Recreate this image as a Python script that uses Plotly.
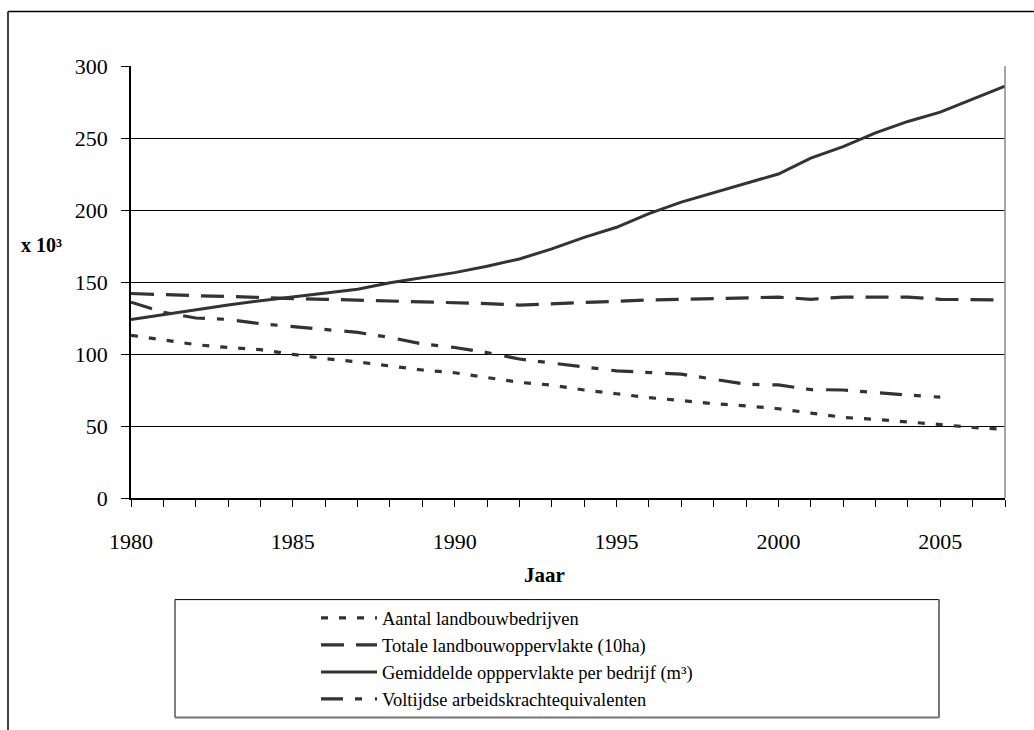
import plotly.graph_objects as go

years = list(range(1980, 2008))

aantal = [113, 110, 106.5, 104.5, 103, 99.7, 96.8, 94.5, 91.6, 88.9, 87, 83.7, 80.3, 78.4,
          75, 72.4, 69.7, 67.7, 65.5, 64, 62, 59, 56, 54.6, 53, 51, 49, 47.7]
totale = [142, 141, 140.5, 140, 139, 138.5, 138, 137.5, 137, 136, 135.5, 135, 134, 135,
          135.8, 136.5, 137.5, 138, 138.5, 139.5, 139.5, 138, 139.5, 139.5, 139.5, 138, 138, 137.5]
gemiddelde = [124, 127.5, 131, 134, 137, 139.5, 142, 145, 149.5, 153, 156.5, 161, 166, 173,
              181, 188, 197.5, 205.5, 212, 218.5, 225, 236, 244, 253.5, 261.5, 268, 277, 286]
voltijdse = [136, 129, 125, 124, 121, 119, 117.5, 115, 111.5, 107, 104.5, 101, 96.5, 93.5,
             91, 88.3, 87, 86, 82.5, 79, 78.5, 75.3, 75, 73, 71.5, 70, None, None]

names = ["Aantal landbouwbedrijven",
         "Totale landbouwoppervlakte (10ha)",
         "Gemiddelde opppervlakte per bedrijf (m³)",
         "Voltijdse arbeidskrachtequivalenten"]

y_ticks = [0, 50, 100, 150, 200, 250, 300]

LINE = "#333333"
FONT = "Liberation Serif"

fig = go.Figure()
styles = [
    (aantal, "7px,11px", 3.2),
    (totale, "23px,12px", 3.2),
    (gemiddelde, "solid", 3),
    (voltijdse, "22px,12px,7px,13px", 3.2),
]
for name, (vals, dash, w) in zip(names, styles):
    fig.add_trace(go.Scatter(
        x=years, y=vals, name=name, mode="lines",
        line=dict(color=LINE, width=w, dash=dash),
        connectgaps=False,
    ))

# pixel helpers for paper coords
L, R, T, B = 131, 29, 66, 229
PW, PH = 1034 - L - R, 730 - T - B
def px(X):
    return (X - L) / PW
def py(Y):
    return (730 - B - Y) / PH

shapes = [
    # right border of plot area
    dict(type="line", xref="paper", yref="paper", x0=1, x1=1, y0=0, y1=1,
         line=dict(color="#888888", width=1.5)),
    # outer frame (top & left)
    dict(type="line", xref="paper", yref="paper", x0=px(8), x1=px(1040), y0=py(11), y1=py(11),
         line=dict(color="#000000", width=1.5)),
    dict(type="line", xref="paper", yref="paper", x0=px(8), x1=px(8), y0=py(11), y1=py(740),
         line=dict(color="#000000", width=1.5)),
    # legend box
    dict(type="rect", xref="paper", yref="paper", x0=px(175), x1=px(939), y0=py(722), y1=py(603.3),
         line=dict(color="#000000", width=1)),
    dict(type="line", xref="paper", yref="paper", x0=px(939), x1=px(939), y0=py(722), y1=py(603.3),
         line=dict(color="#777777", width=2)),
    dict(type="line", xref="paper", yref="paper", x0=px(175), x1=px(939), y0=py(722), y1=py(722),
         line=dict(color="#777777", width=2)),
]

annotations = [
    dict(text="<b>x 10³</b>", xref="paper", yref="paper", x=px(19), y=py(246.7),
         xanchor="left", yanchor="middle", showarrow=False,
         font=dict(family=FONT, size=20, color="#000")),
    dict(text="<b>Jaar</b>", xref="paper", yref="paper", x=px(544.3), y=py(578.3),
         xanchor="center", yanchor="middle", showarrow=False,
         font=dict(family=FONT, size=21, color="#000")),
]

fig.update_layout(
    width=1034, height=730,
    margin=dict(l=L, r=R, t=T, b=B),
    paper_bgcolor="white", plot_bgcolor="white",
    font=dict(family=FONT, color="#000"),
    shapes=shapes, annotations=annotations,
    showlegend=True,
    legend=dict(x=px(316), y=py(603), xanchor="left", yanchor="top",
                bgcolor="rgba(0,0,0,0)", borderwidth=0,
                itemwidth=56,
                font=dict(family=FONT, size=18.5, color="#000"),
                tracegroupgap=0),
    xaxis=dict(range=[1980, 2007], tickmode="linear", tick0=1980, dtick=5,
               ticks="outside", ticklen=7, tickcolor="#000", tickwidth=1,
               minor=dict(dtick=1, ticks="outside", ticklen=7, tickcolor="#000", tickwidth=1),
               showgrid=False, showline=True, linecolor="#000", linewidth=1.5,
               zeroline=False, ticklabelstandoff=16,
               tickfont=dict(family=FONT, size=22, color="#000")),
    yaxis=dict(range=[0, 300], tickmode="array", tickvals=y_ticks,
               ticks="outside", ticklen=8, tickcolor="#000", tickwidth=1,
               showgrid=True, gridcolor="#000", gridwidth=1,
               showline=True, linecolor="#000", linewidth=1.5,
               zeroline=False, ticklabelstandoff=9,
               tickfont=dict(family=FONT, size=22, color="#000")),
)

fig.write_html("out.html", config={"displayModeBar": False},
               post_script="document.body.style.margin='0';")
